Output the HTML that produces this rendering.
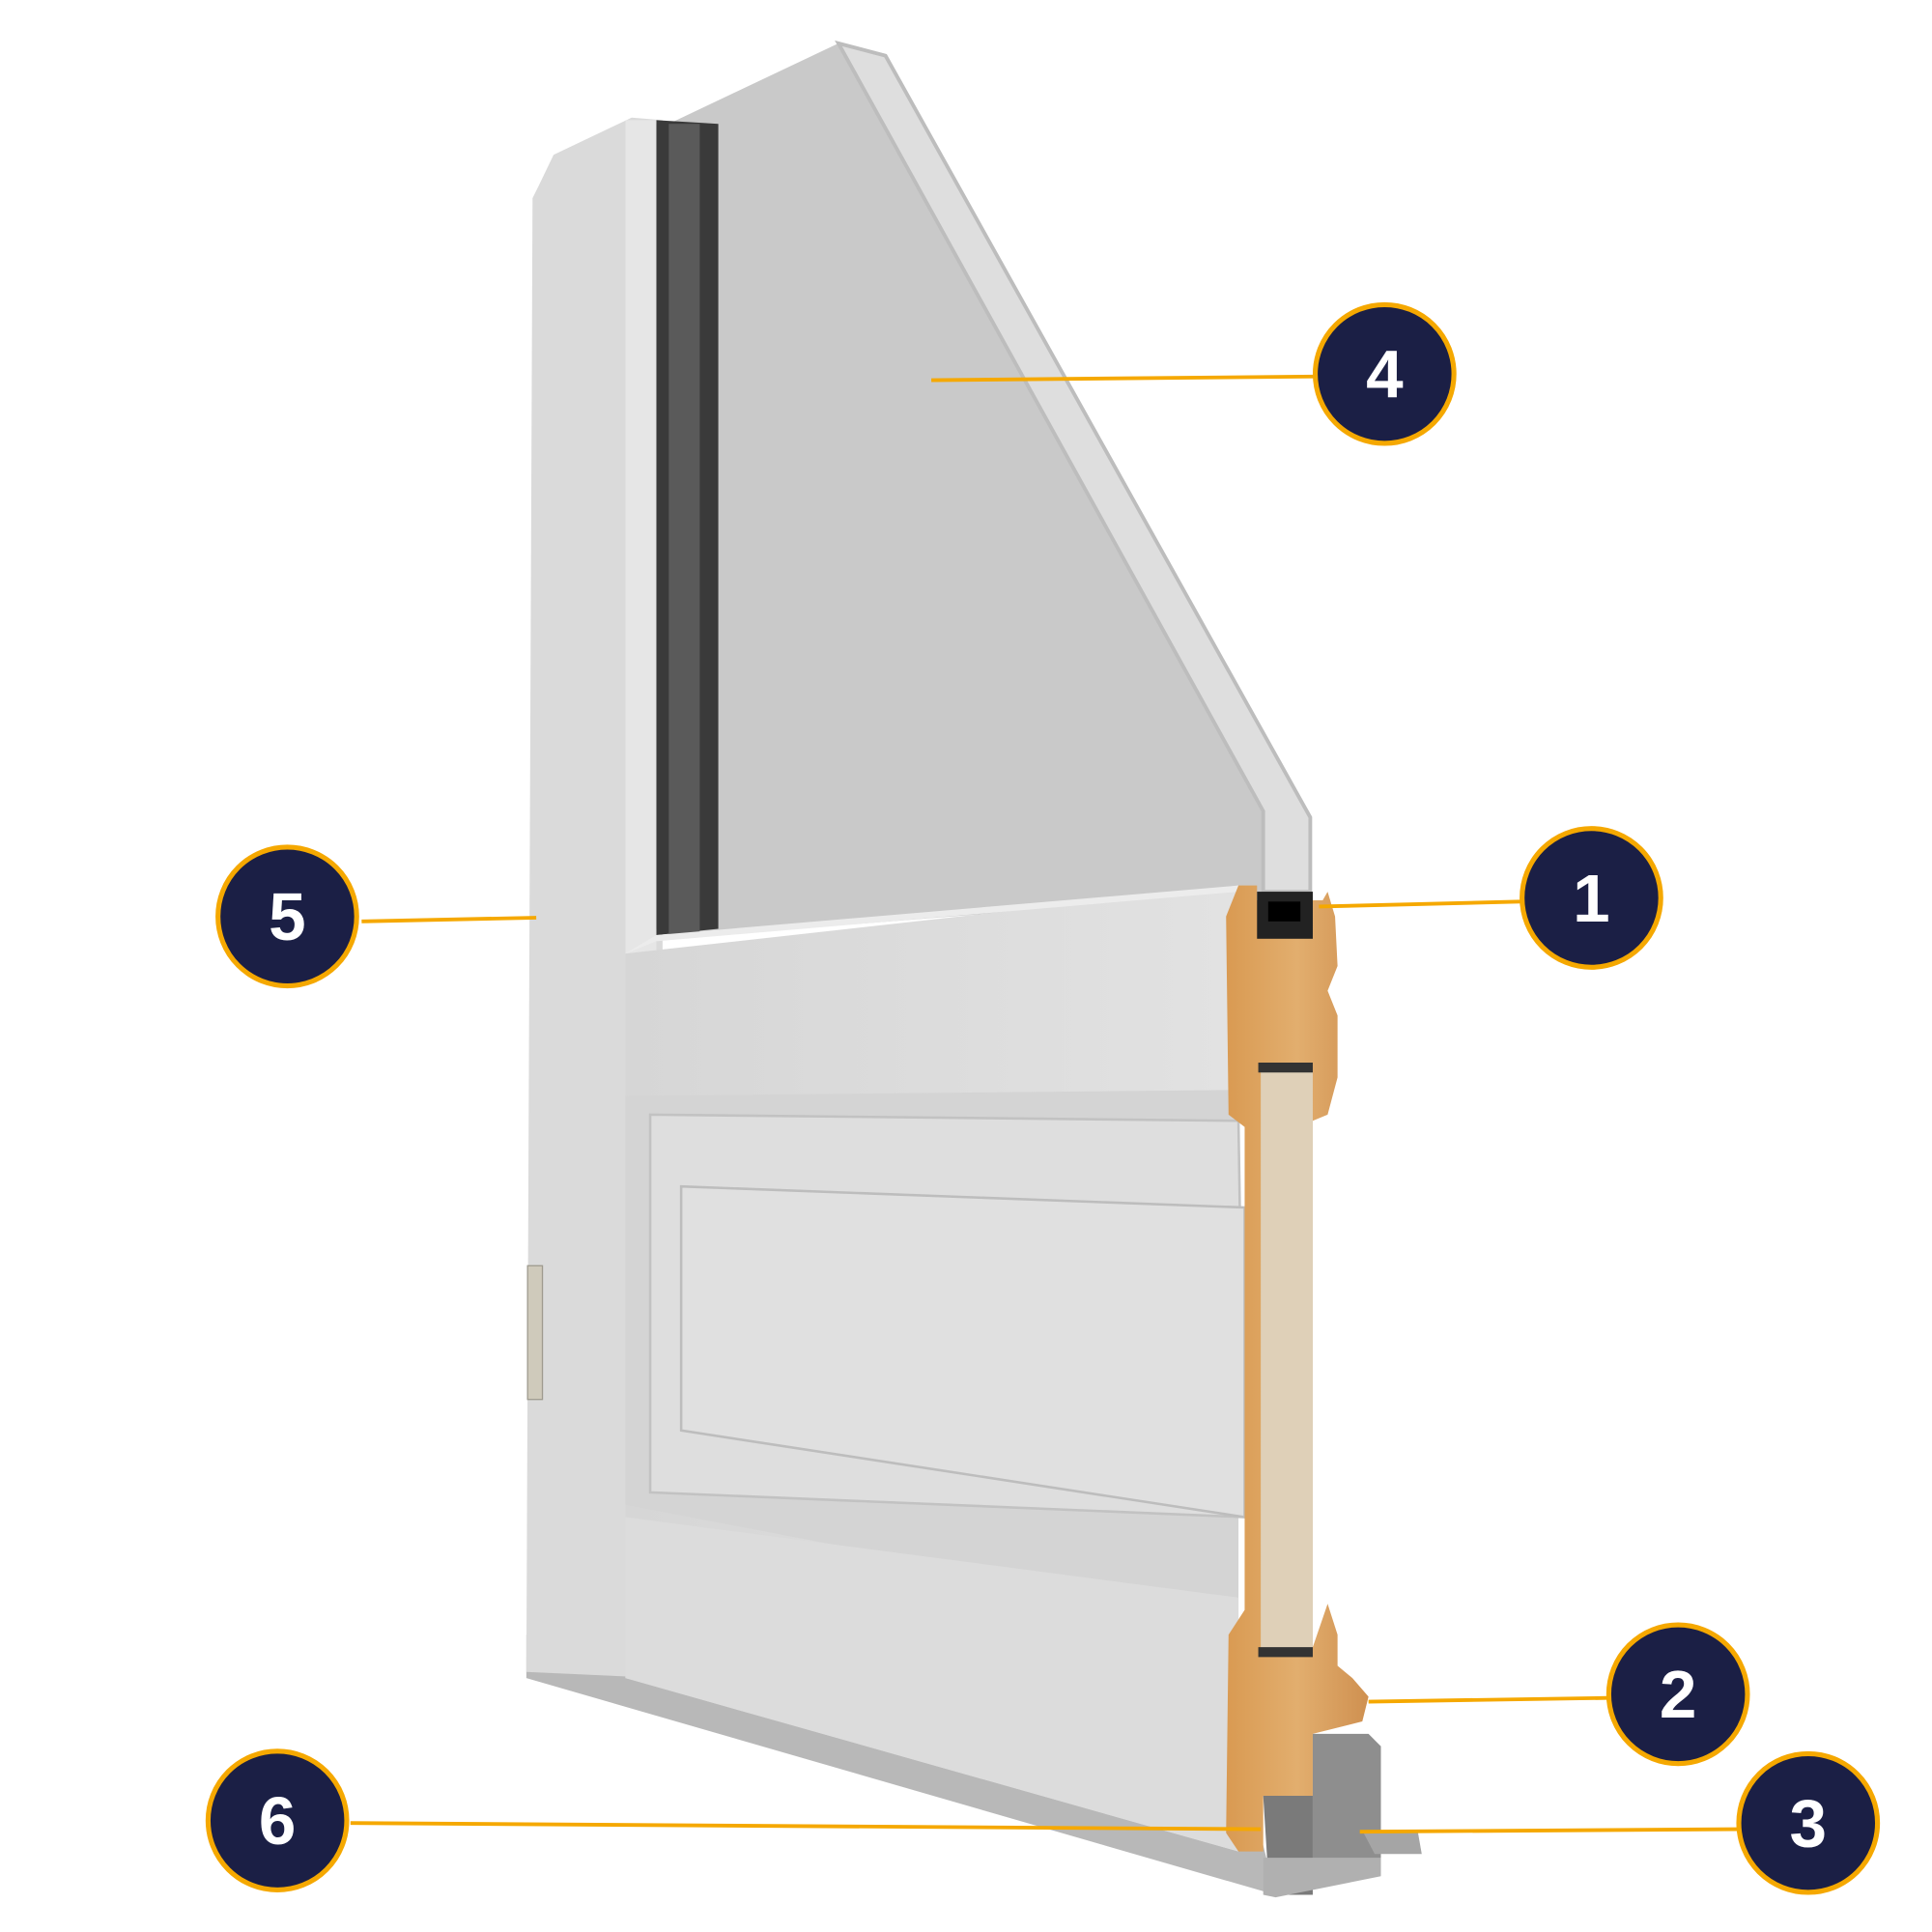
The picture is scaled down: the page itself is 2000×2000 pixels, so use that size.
<!DOCTYPE html>
<html><head><style>html,body{margin:0;padding:0;background:#fff}svg{display:block}</style></head>
<body>
<svg width="2000" height="2000" viewBox="0 0 1560 1560" xmlns="http://www.w3.org/2000/svg">
<defs>
<linearGradient id="wood" x1="0" x2="1"><stop offset="0" stop-color="#d99a52"/><stop offset=".5" stop-color="#e2ae6e"/><stop offset="1" stop-color="#cf9050"/></linearGradient>
<linearGradient id="face" x1="0" x2="1"><stop offset="0" stop-color="#d6d6d6"/><stop offset="1" stop-color="#e2e2e2"/></linearGradient>
</defs>
<polygon points="425,1320 1020,1490 1030,1530 425,1355" fill="#b8b8b8"/>
<polygon points="435,150 447,125 510,95 535,97 535,1355 425,1350 430,160" fill="#dadada"/>
<polygon points="505,97 530,97 530,1360 505,1355" fill="#e6e6e6"/>
<polygon points="540,100 677,35 1020,655 1020,720 580,755 540,755" fill="#c9c9c9"/>
<polygon points="677,35 715,45 1058,660 1058,720 1020,720 1020,655" fill="#dedede" stroke="#bdbdbd" stroke-width="3"/>
<polygon points="530,97 580,100 580,750 530,755" fill="#3a3a3a"/>
<rect x="540" y="100" width="25" height="655" fill="#5a5a5a"/>
<polygon points="505,770 1000,715 1000,1495 505,1355" fill="url(#face)"/>
<polygon points="505,770 530,755 1000,715 1000,720 530,760" fill="#ececec"/>
<polygon points="505,885 1000,880 1000,1310 505,1215" fill="#d4d4d4"/>
<polygon points="525,900 1000,905 1005,1225 525,1205" fill="#dedede" stroke="#c2c2c2" stroke-width="2"/>
<polygon points="550,958 1005,975 1005,1225 550,1155" fill="#e0e0e0" stroke="#bdbdbd" stroke-width="2"/>
<polygon points="505,1225 1000,1290 1000,1495 505,1355" fill="#dcdcdc"/>
<rect x="426" y="1022" width="12" height="108" fill="#cfcabb" stroke="#9e9a8e"/>
<path d="M1000,715 L1015,715 L1015,727 L1068,727 L1072,720 L1078,740 L1080,780 L1072,800 L1080,820 L1080,870 L1072,900 L1060,905 L1060,1330 L1072,1295 L1080,1320 L1080,1345 L1092,1355 L1105,1370 L1100,1390 L1060,1400 L1060,1450 L1020,1450 L1020,1495 L1000,1495 L990,1480 L992,1320 L1005,1300 L1005,910 L992,900 L990,740 Z" fill="url(#wood)"/>
<rect x="1018" y="862" width="42" height="470" fill="#dfd0b8"/>
<rect x="1016" y="858" width="44" height="8" fill="#333"/>
<rect x="1016" y="1330" width="44" height="8" fill="#333"/>
<rect x="1015" y="720" width="45" height="38" fill="#222"/>
<rect x="1024" y="728" width="26" height="16" fill="#000"/>
<polygon points="1060,1400 1105,1400 1115,1410 1115,1510 1060,1515" fill="#8e8e8e"/>
<polygon points="1020,1450 1060,1450 1060,1530 1025,1530" fill="#7a7a7a"/>
<polygon points="1100,1478 1145,1480 1148,1497 1110,1497" fill="#a5a5a5"/>
<polygon points="1020,1500 1115,1500 1115,1515 1030,1532 1020,1530" fill="#b0b0b0"/>
<g stroke="#f5a800" stroke-width="3" fill="none">
<line x1="752" y1="307" x2="1062" y2="304"/>
<line x1="1065" y1="732" x2="1228" y2="728"/>
<line x1="292" y1="744" x2="433" y2="741"/>
<line x1="1105" y1="1374" x2="1298" y2="1371"/>
<line x1="1098" y1="1479" x2="1403" y2="1477"/>
<line x1="283" y1="1472" x2="1018" y2="1477"/>
</g>
<g fill="#1b1f45" stroke="#f5a800" stroke-width="4">
<circle cx="1118" cy="302" r="56"/>
<circle cx="1285" cy="725" r="56"/>
<circle cx="232" cy="740" r="56"/>
<circle cx="1355" cy="1368" r="56"/>
<circle cx="1460" cy="1472" r="56"/>
<circle cx="224" cy="1470" r="56"/>
</g>
<g fill="#fff" font-family="Liberation Sans, sans-serif" font-weight="bold" font-size="54" text-anchor="middle">
<text x="1118" y="321">4</text>
<text x="1285" y="744">1</text>
<text x="232" y="759">5</text>
<text x="1355" y="1387">2</text>
<text x="1460" y="1491">3</text>
<text x="224" y="1489">6</text>
</g>
</svg>
</body></html>
